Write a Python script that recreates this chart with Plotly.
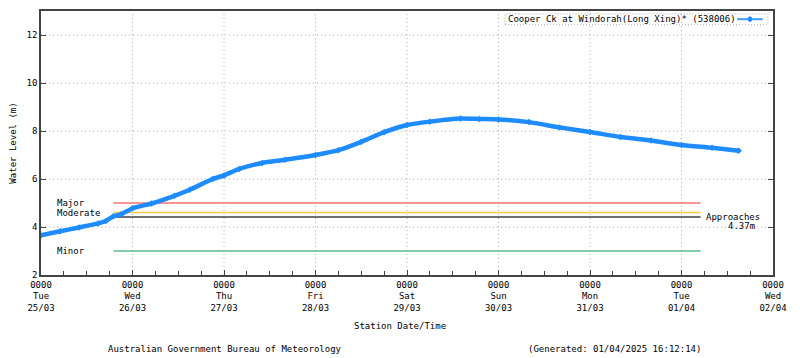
import plotly.graph_objects as go
from datetime import datetime, timedelta

# ---- data ----
start = datetime(2025, 3, 25, 0, 0)
hours = [0, 5, 10, 15, 17, 19, 21, 24, 29, 35, 39, 45, 48, 52, 58, 64, 72, 78, 84, 90, 96, 102, 110, 115, 120,
         128, 136, 144, 152, 160, 168, 176, 183]
levels = [3.65, 3.82, 3.98, 4.15, 4.25, 4.45, 4.53, 4.78, 4.98, 5.3, 5.55, 6.0, 6.15, 6.42, 6.67, 6.8, 7.0, 7.2,
          7.55, 7.95, 8.25, 8.39, 8.52, 8.5, 8.48, 8.37, 8.15, 7.96, 7.75, 7.6, 7.42, 7.3, 7.18]
times = [start + timedelta(hours=h) for h in hours]

flood_names = ["Major", "Moderate", "Approaches", "Minor"]
flood_levels = [5.0, 4.6, 4.42, 3.0]
flood_colors = ["#ff7070", "#ffc84a", "#404040", "#5cb88c"]
flood_start = start + timedelta(hours=19)
flood_end = start + timedelta(hours=173)

day_ticks = [start + timedelta(days=d) for d in range(9)]
day_names = ["Tue", "Wed", "Thu", "Fri", "Sat", "Sun", "Mon", "Tue", "Wed"]
day_dates = ["25/03", "26/03", "27/03", "28/03", "29/03", "30/03", "31/03", "01/04", "02/04"]
tick_text = [f"0000<br>{n}<br>{d}" for n, d in zip(day_names, day_dates)]
y_ticks = [2, 4, 6, 8, 10, 12]

FONT = "DejaVu Sans Mono"
GRID = dict(color="#b0b0b0", width=1, dash="1px,3px")
fig = go.Figure()

# manual grid
for t in day_ticks[1:-1]:
    fig.add_shape(type="line", xref="x", yref="paper", x0=t, x1=t, y0=0, y1=1, line=GRID, layer="below")
for v in y_ticks[1:]:
    fig.add_shape(type="line", xref="paper", yref="y", x0=0, x1=1, y0=v, y1=v, line=GRID, layer="below")

for name, lvl, col in zip(flood_names, flood_levels, flood_colors):
    fig.add_trace(go.Scatter(x=[flood_start, flood_end], y=[lvl, lvl], mode="lines",
                             line=dict(color=col, width=1.5), showlegend=False, hoverinfo="skip"))

fig.add_trace(go.Scatter(x=times, y=levels, mode="lines+markers",
                         line=dict(color="#1e8cff", width=4.5, shape="spline", smoothing=0.6),
                         marker=dict(symbol="diamond", size=5, color="#1e8cff"),
                         showlegend=False))

# flood labels
for txt, lvl in [("Major", 5.0), ("Moderate", 4.6), ("Minor", 3.0)]:
    fig.add_annotation(x=0.019, xref="paper", y=lvl, yref="y", text=txt, showarrow=False,
                       xanchor="left", yanchor="middle", font=dict(family=FONT, size=9, color="#000"))
fig.add_annotation(x=flood_end, y=4.42, text="Approaches", showarrow=False, xshift=3,
                   xanchor="left", yanchor="middle", font=dict(family=FONT, size=9, color="#000"))
fig.add_annotation(x=0.978, xref="paper", y=4.03, yref="y", text="4.37m", showarrow=False,
                   xanchor="right", yanchor="middle", font=dict(family=FONT, size=9, color="#000"))

# legend box (gnuplot style)
fig.add_shape(type="rect", xref="paper", yref="paper", x0=0.634, x1=0.993, y0=0.948, y1=0.989,
              line=dict(color="#aaaaaa", width=1, dash="1px,2px"))
fig.add_annotation(x=0.635, xref="paper", y=0.969, yref="paper", text="Cooper Ck at Windorah(Long Xing)* (538006)",
                   showarrow=False, xanchor="left", yanchor="middle", font=dict(family=FONT, size=9, color="#000"))
fig.add_shape(type="line", xref="paper", yref="paper", x0=0.951, x1=0.986, y0=0.969, y1=0.969,
              line=dict(color="#3c9cff", width=2))
fig.add_shape(type="circle", xref="paper", yref="paper", x0=0.966, x1=0.971, y0=0.960, y1=0.978,
              line=dict(color="#1e8cff", width=1), fillcolor="#1e8cff")

# bottom texts
fig.add_annotation(x=0.49, xref="paper", y=-0.193, yref="paper", text="Station Date/Time", showarrow=False,
                   font=dict(family=FONT, size=9, color="#000"), xanchor="center", yanchor="middle")
fig.add_annotation(x=0.251, xref="paper", y=-0.28, yref="paper",
                   text="Australian Government Bureau of Meteorology", showarrow=False,
                   font=dict(family=FONT, size=9, color="#000"), xanchor="center", yanchor="middle")
fig.add_annotation(x=0.784, xref="paper", y=-0.28, yref="paper",
                   text="(Generated: 01/04/2025 16:12:14)", showarrow=False,
                   font=dict(family=FONT, size=9, color="#000"), xanchor="center", yanchor="middle")

# page body has an 8px default margin, so the figure is sized/offset to compensate
fig.update_layout(
    width=792, height=350,
    margin=dict(l=33, r=27, t=3, b=83),
    paper_bgcolor="white", plot_bgcolor="white",
    font=dict(family=FONT, size=9, color="#000"),
    showlegend=False,
)
fig.update_xaxes(
    type="date", range=[day_ticks[0], day_ticks[-1]], automargin=False,
    tickmode="array", tickvals=day_ticks, ticktext=tick_text,
    showgrid=False,
    showline=True, linecolor="#444444", linewidth=1.5, mirror=True,
    ticks="inside", ticklen=5, tickcolor="#444444",
    minor=dict(dtick=6 * 3600 * 1000, ticks="inside", ticklen=4, tickcolor="#444444", showgrid=False),
    zeroline=False, tickfont=dict(family=FONT, size=9),
)
fig.update_yaxes(
    range=[2, 13], tickmode="array", tickvals=y_ticks, automargin=False,
    showgrid=False, minor=dict(showgrid=False),
    showline=True, linecolor="#444444", linewidth=1.5, mirror="ticks",
    ticks="inside", ticklen=5, tickcolor="#444444",
    zeroline=False, tickfont=dict(family=FONT, size=9),
    title=dict(text="Water Level (m)", font=dict(family=FONT, size=9), standoff=11),
)

fig.write_html("out.html")
